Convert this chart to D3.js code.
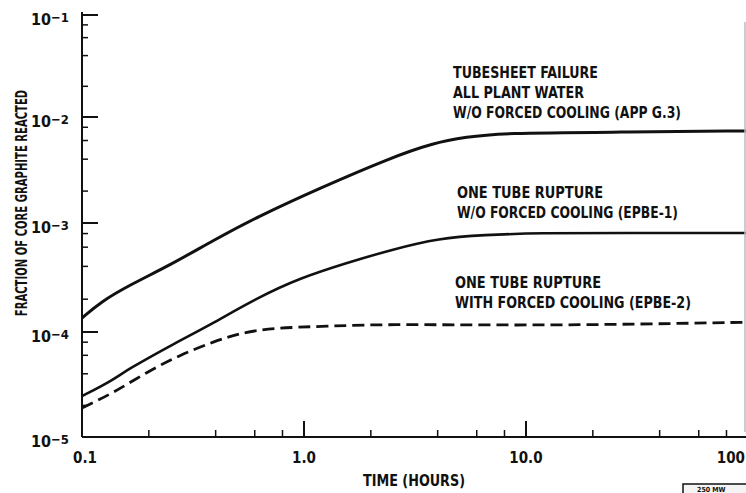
<!DOCTYPE html>
<html>
<head>
<meta charset="utf-8">
<script src="https://cdn.jsdelivr.net/npm/d3@7"></script>
<style>
  html, body { margin: 0; padding: 0; background: #fff; overflow: hidden; }
  svg { display: block; }
  text { font-family: "Liberation Sans Narrow", "DejaVu Sans Condensed", "Roboto", sans-serif; font-weight: bold; fill: #111; }
</style>
</head>
<body>
<svg id="chart" width="746" height="493"></svg>
<script>
// ---- data ----
const tubesheetTime = [0.1, 0.121, 0.164, 0.249, 0.389, 0.614, 1.18, 2.44, 3.81, 5.42, 7.63, 26.5, 100];
const tubesheetFrac = [1.34e-4, 1.88e-4, 2.70e-4, 4.1e-4, 6.9e-4, 1.14e-3, 2.14e-3, 4.1e-3, 5.69e-3, 6.48e-3, 7.06e-3, 7.2e-3, 7.4e-3];

const epbe1Time = [0.1, 0.138, 0.159, 0.268, 0.377, 0.614, 0.96, 1.56, 2.44, 4.1, 6.4, 11.6, 26.5, 100];
const epbe1Frac = [2.45e-5, 3.49e-5, 4.35e-5, 8.03e-5, 1.16e-4, 2.05e-4, 3.13e-4, 4.3e-4, 5.65e-4, 7.28e-4, 7.76e-4, 8.1e-4, 8.1e-4, 8.1e-4];

const epbe2Time = [0.1, 0.138, 0.196, 0.276, 0.389, 0.515, 0.725, 1.27, 2.27, 9.4, 32.6, 100];
const epbe2Frac = [1.89e-5, 2.62e-5, 4.16e-5, 6.04e-5, 8.03e-5, 9.8e-5, 1.09e-4, 1.13e-4, 1.18e-4, 1.15e-4, 1.18e-4, 1.23e-4];

const xMajorTicks = [0.1, 1, 10, 100];
const xTickLabels = ["0.1", "1.0", "10.0", "100"];
const yMajorTicks = [1e-5, 1e-4, 1e-3, 1e-2, 1e-1];
const yTickExponents = ["\u22125", "\u22124", "\u22123", "\u22122", "\u22121"];
const minorMultiples = [2, 4, 6, 8];

const annotationTubesheet = ["TUBESHEET FAILURE", "ALL PLANT WATER", "W/O FORCED COOLING (APP G.3)"];
const annotationEpbe1 = ["ONE TUBE RUPTURE", "W/O FORCED COOLING (EPBE-1)"];
const annotationEpbe2 = ["ONE TUBE RUPTURE", "WITH FORCED COOLING (EPBE-2)"];

// ---- scales ----
const svg = d3.select("#chart");
const x = d3.scaleLog().domain([0.1, 100]).range([82, 748]);
const y = d3.scaleLog().domain([1e-5, 1e-4, 1e-3, 1e-2, 1e-1]).range([437, 332, 223, 117, 15]);

const ink = "#111";

// ---- axes ----
svg.append("line").attr("x1", x(0.1)).attr("x2", x(0.1)).attr("y1", y(1e-1) - 3).attr("y2", y(1e-5))
  .attr("stroke", ink).attr("stroke-width", 2);
svg.append("line").attr("x1", x(0.1)).attr("x2", 746).attr("y1", y(1e-5)).attr("y2", y(1e-5))
  .attr("stroke", ink).attr("stroke-width", 2);

// x ticks
const xMinor = [];
xMajorTicks.slice(0, -1).forEach(d => minorMultiples.forEach(m => xMinor.push(d * m)));
svg.selectAll(".xmaj").data(xMajorTicks.slice(1)).join("line")
  .attr("x1", d => x(d)).attr("x2", d => x(d)).attr("y1", y(1e-5)).attr("y2", y(1e-5) - 16)
  .attr("stroke", ink).attr("stroke-width", 2);
svg.selectAll(".xmin").data(xMinor).join("line")
  .attr("x1", d => x(d)).attr("x2", d => x(d)).attr("y1", y(1e-5)).attr("y2", y(1e-5) - 7)
  .attr("stroke", ink).attr("stroke-width", 1.5);
svg.selectAll(".xlab").data(xMajorTicks).join("text")
  .attr("x", (d, i) => i === 3 ? 745 : x(d) + (i === 0 ? 3 : 0))
  .attr("y", y(1e-5) + 26)
  .attr("text-anchor", (d, i) => i === 3 ? "end" : "middle").attr("font-size", 15)
  .text((d, i) => xTickLabels[i]);

// y ticks
const yMinor = [];
yMajorTicks.slice(0, -1).forEach(d => minorMultiples.forEach(m => yMinor.push(d * m)));
svg.selectAll(".ymaj").data(yMajorTicks.slice(1)).join("line")
  .attr("x1", x(0.1)).attr("x2", x(0.1) + 16).attr("y1", d => y(d)).attr("y2", d => y(d))
  .attr("stroke", ink).attr("stroke-width", 2);
svg.selectAll(".ymin").data(yMinor).join("line")
  .attr("x1", x(0.1)).attr("x2", x(0.1) + 6).attr("y1", d => y(d)).attr("y2", d => y(d))
  .attr("stroke", ink).attr("stroke-width", 1.5);
const ylab = svg.selectAll(".ylab").data(yMajorTicks).join("text")
  .attr("x", x(0.1) - 13).attr("y", d => y(d) + 10)
  .attr("text-anchor", "end").attr("font-size", 16);
ylab.append("tspan").text("10");
ylab.append("tspan").attr("dy", -3).attr("font-size", 13).text((d, i) => yTickExponents[i]);

// axis titles
svg.append("text").attr("transform", `translate(27,203) rotate(-90) scale(0.7,1)`)
  .attr("text-anchor", "middle").attr("font-size", 16)
  .text("FRACTION OF CORE GRAPHITE REACTED");
svg.append("text").attr("x", 414).attr("y", 486).attr("text-anchor", "middle")
  .attr("font-size", 16).attr("textLength", 102).attr("lengthAdjust", "spacingAndGlyphs")
  .text("TIME (HOURS)");

// ---- curves ----
const line = d3.line().x(d => x(d[0])).y(d => y(d[1])).curve(d3.curveBasis);
const zip = (a, b) => a.map((v, i) => [v, b[i]]);

svg.append("path").datum(zip(tubesheetTime, tubesheetFrac)).attr("d", line)
  .attr("fill", "none").attr("stroke", ink).attr("stroke-width", 3);
svg.append("path").datum(zip(epbe1Time, epbe1Frac)).attr("d", line)
  .attr("fill", "none").attr("stroke", ink).attr("stroke-width", 2.6);
svg.append("path").datum(zip(epbe2Time, epbe2Frac)).attr("d", line)
  .attr("fill", "none").attr("stroke", ink).attr("stroke-width", 2.8)
  .attr("stroke-dasharray", "12,6");

// ---- annotations ----
function annotate(lines, x0, y0, widths) {
  lines.forEach((t, i) => {
    svg.append("text").attr("x", x0).attr("y", y0 + i * 20).attr("font-size", 16)
      .attr("textLength", widths[i]).attr("lengthAdjust", "spacingAndGlyphs").text(t);
  });
}
annotate(annotationTubesheet, 453, 78, [145, 131, 228]);
annotate(annotationEpbe1, 457, 198, [146, 221]);
annotate(annotationEpbe2, 455, 288, [146, 236]);

// scan edge and stamp
svg.append("line").attr("x1", 745).attr("x2", 745).attr("y1", 22).attr("y2", 432)
  .attr("stroke", "#bbb").attr("stroke-width", 1.5);
svg.append("rect").attr("x", 683).attr("y", 484).attr("width", 70).attr("height", 14)
  .attr("fill", "#f4f4f4").attr("stroke", ink).attr("stroke-width", 1.5);
svg.append("text").attr("x", 697).attr("y", 492).attr("font-size", 7).text("250 MW");
</script>
</body>
</html>
